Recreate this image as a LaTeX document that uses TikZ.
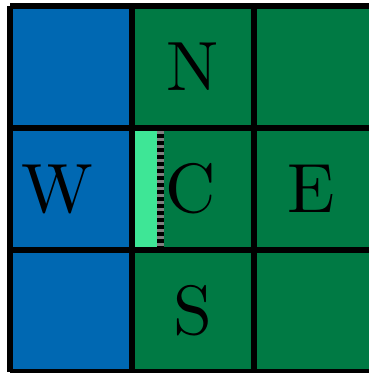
\documentclass[tikz,border=0pt]{standalone}
\usepackage{fontspec}
\setmainfont{lmroman10-regular}[Extension=.otf]
\usepackage{tikz}
\usetikzlibrary{positioning}
\definecolor{myblue}{RGB}{0,104,178}
\definecolor{mygreen}{RGB}{0,122,68}
\definecolor{mylight}{RGB}{62,230,150}
\definecolor{mygray}{RGB}{128,128,128}
\tikzset{
  bluecell/.style={fill=myblue},
  greencell/.style={fill=mygreen},
  gridline/.style={line width=6.5bp, color=black},
  letter/.style={font=\fontsize{70}{70}\selectfont, text=black, inner sep=0pt},
  edgebase/.style={line width=6.5bp, color=mygray},
  edgedash/.style={line width=6.5bp, color=black, dash pattern=on 3.5bp off 3.5bp}
}

\begin{document}
\begin{tikzpicture}[x=122bp, y=122bp]
  \useasboundingbox (-10bp,-1bp) rectangle (359bp,372bp);
  % Cells
  \fill[bluecell] (0,0) rectangle (1,3);
  \fill[greencell] (1,0) rectangle (3,3);
  % Boundary strip of C
  \fill[mylight] (1,1) rectangle (1.215,2);
  \draw[edgebase] (1.235,1) -- (1.235,2);
  \draw[edgedash] (1.235,1) -- (1.235,2);
  % Grid
  \foreach \i in {0,...,3} {
    \draw[gridline] (\i,0) -- (\i,3);
    \draw[gridline] (0,\i) -- (3,\i);
  }
  % Labels
  \node[letter] (nlabel) at (1.5,2.5) {N};
  \node[letter] (wlabel) at (0.385,1.5) {W};
  \node[letter] (clabel) at (1.48,1.5) {C};
  \node[letter] (elabel) at (2.47,1.5) {E};
  \node[letter] (slabel) at (1.5,0.5) {S};
\end{tikzpicture}
\end{document}
